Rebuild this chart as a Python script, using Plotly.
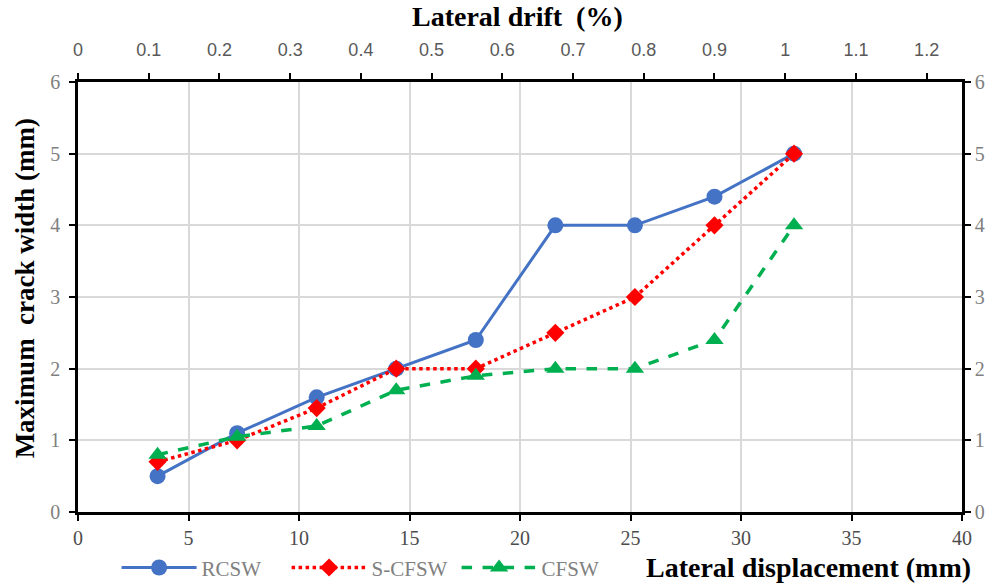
import plotly.graph_objects as go

displacement = [3.6, 7.2, 10.8, 14.4, 18.0, 21.6, 25.2, 28.8, 32.4]
rcsw = [0.5, 1.1, 1.6, 2.0, 2.4, 4.0, 4.0, 4.4, 5.0]
scfsw = [0.7, 1.0, 1.45, 2.0, 2.0, 2.5, 3.0, 4.0, 5.0]
cfsw = [0.8, 1.05, 1.2, 1.7, 1.9, 2.0, 2.0, 2.4, 4.0]

x_ticks = [0, 5, 10, 15, 20, 25, 30, 35, 40]
drift_ticks = [0, 0.1, 0.2, 0.3, 0.4, 0.5, 0.6, 0.7, 0.8, 0.9, 1, 1.1, 1.2]
y_ticks = [0, 1, 2, 3, 4, 5, 6]

SERIF = "Liberation Serif"

fig = go.Figure()
fig.add_trace(go.Scatter(x=displacement, y=rcsw, name="RCSW", mode="lines+markers",
                         line=dict(color="#4472C4", width=3),
                         marker=dict(symbol="circle", size=16, color="#4472C4")))
fig.add_trace(go.Scatter(x=displacement, y=scfsw, name="S-CFSW", mode="lines+markers",
                         line=dict(color="#FF0000", width=3.5, dash="dot"),
                         marker=dict(symbol="diamond", size=14, color="#FF0000")))
fig.add_trace(go.Scatter(x=displacement, y=cfsw, name="CFSW", mode="lines+markers",
                         line=dict(color="#00B050", width=3.5, dash="dash"),
                         marker=dict(symbol="triangle-up", size=16, color="#00B050")))

bottom_font = dict(family=SERIF, size=20, color="#4D4D4D")
side_font = dict(family=SERIF, size=20, color="#808080")
top_font = dict(family="Liberation Sans", size=18, color="#595959")

common = dict(ticks="outside", ticklen=6, tickwidth=2, tickcolor="black",
              showline=True, linecolor="black", linewidth=2.5, zeroline=False,
              automargin=False)

fig.update_layout(
    width=988, height=583,
    margin=dict(l=78, r=26, t=82, b=71, autoexpand=False),
    paper_bgcolor="white", plot_bgcolor="white",
    showlegend=True,
    legend=dict(orientation="h", xref="container", yref="container",
                x=0.118, y=0.026, xanchor="left", yanchor="middle",
                font=dict(family=SERIF, size=21, color="#808080"),
                entrywidth=80, entrywidthmode="pixels",
                itemwidth=75, bgcolor="rgba(0,0,0,0)"),
    xaxis=dict(range=[0, 40], tickvals=x_ticks, showgrid=True, gridcolor="#D9D9D9",
               gridwidth=1.5, tickfont=bottom_font, **common),
    xaxis2=dict(range=[0, 1.25], tickvals=drift_ticks, overlaying="x", side="top",
                showgrid=False, tickfont=top_font, ticklabelstandoff=10, **common),
    yaxis=dict(range=[0, 6], tickvals=y_ticks, showgrid=True, gridcolor="#D9D9D9",
               gridwidth=1.5, tickfont=side_font, ticklabelstandoff=5, **common),
    yaxis2=dict(range=[0, 6], tickvals=y_ticks, overlaying="y", side="right",
                showgrid=False, tickfont=side_font, ticklabelstandoff=0, **common),
)

# invisible trace to activate secondary axes
fig.add_trace(go.Scatter(x=[0], y=[0], xaxis="x2", yaxis="y2", mode="markers",
                         marker=dict(opacity=0), showlegend=False, hoverinfo="skip"))

titlefont = dict(family=SERIF, size=28, color="black")
fig.add_annotation(text="<b>Lateral drift  (%)</b>", xref="paper", yref="paper",
                   x=0.497, y=1.152, xanchor="center", yanchor="middle",
                   showarrow=False, font=titlefont)
fig.add_annotation(text="<b>Maximum  crack width (mm)</b>", xref="paper", yref="paper",
                   x=-0.06, y=0.52, xanchor="center", yanchor="middle", textangle=-90,
                   showarrow=False, font=dict(family=SERIF, size=27, color="black"))
fig.add_annotation(text="<b>Lateral displacement (mm)</b>", xref="paper", yref="paper",
                   x=1.012, y=-0.13, xanchor="right", yanchor="middle",
                   showarrow=False, font=titlefont)

fig.write_html("out.html")
